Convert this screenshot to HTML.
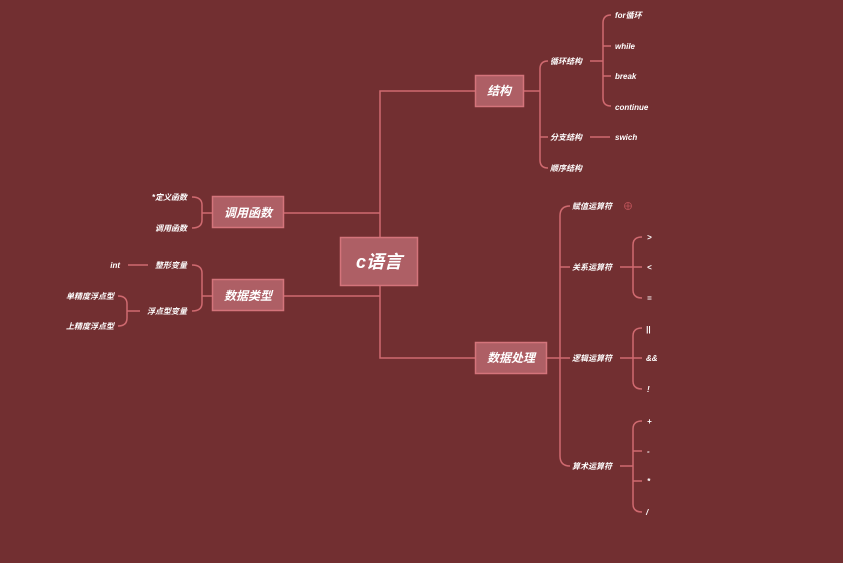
<!DOCTYPE html>
<html><head><meta charset="utf-8"><style>
html,body{margin:0;padding:0;background:#722f31;}
svg{display:block}
text{font-family:"Liberation Sans","Noto Sans CJK SC",sans-serif;font-style:italic;font-weight:bold;fill:#fff;}
.s{font-size:8px}
.m{font-size:12px}
</style></head><body>
<svg width="843" height="563" viewBox="0 0 843 563" xmlns="http://www.w3.org/2000/svg">
<rect width="843" height="563" fill="#722f31"/>
<g fill="none" stroke="#d06a70" stroke-width="1.5">
<!-- main trunk -->
<path d="M475,91 H380 V358 H475"/>
<path d="M283,213 H380 M284,296 H380"/>
<!-- 结构 bracket -->
<path d="M524,91 H540"/>
<path d="M548,61 Q540,61 540,69 V160 Q540,168 548,168 M540,137 Q540,137 548,137"/>
<!-- 循环结构 bracket -->
<path d="M590,61 H603"/>
<path d="M611,15 Q603,15 603,23 V98 Q603,106 611,106 M603,46 H611 M603,76 H611"/>
<path d="M590,137 H610"/>
<!-- 数据处理 bracket -->
<path d="M547,358 H560"/>
<path d="M570,206 Q560,206 560,216 V456 Q560,466 570,466 M560,267 H570 M560,358 H570"/>
<!-- 关系 -->
<path d="M620,267 H633"/>
<path d="M642,237 Q633,237 633,245 V290 Q633,298 642,298 M633,267 H642"/>
<!-- 逻辑 -->
<path d="M620,358 H633"/>
<path d="M642,328 Q633,328 633,336 V381 Q633,389 642,389 M633,358 H642"/>
<!-- 算术 -->
<path d="M620,466 H633"/>
<path d="M642,421 Q633,421 633,429 V504 Q633,512 642,512 M633,451 H642 M633,481 H642"/>
<!-- 调用函数 -->
<path d="M212,213 H202"/>
<path d="M192,197 Q202,197 202,205 V220 Q202,228 192,228"/>
<!-- 数据类型 -->
<path d="M212,296 H202"/>
<path d="M192,265 Q202,265 202,273 V303 Q202,311 192,311"/>
<path d="M128,265 H148"/>
<!-- 浮点型变量 -->
<path d="M140,311 H127"/>
<path d="M118,296 Q127,296 127,304 V318 Q127,326 118,326"/>
</g>
<g fill="#ae5f65" stroke="#d4747b" stroke-width="1.5">
<rect x="340.5" y="237.5" width="77" height="48"/>
<rect x="475.5" y="75.5" width="48" height="31"/>
<rect x="475.5" y="342.5" width="71" height="31"/>
<rect x="212.5" y="196.5" width="71" height="31"/>
<rect x="212.5" y="279.5" width="71" height="31"/>
</g>
<text x="379" y="268" font-size="18" text-anchor="middle">c语言</text>
<text x="499" y="95" class="m" text-anchor="middle">结构</text>
<text x="511" y="362" class="m" text-anchor="middle">数据处理</text>
<text x="248" y="217" class="m" text-anchor="middle">调用函数</text>
<text x="248" y="300" class="m" text-anchor="middle">数据类型</text>
<g class="s">
<text x="550" y="64" class="s">循环结构</text>
<text x="550" y="140" class="s">分支结构</text>
<text x="550" y="171" class="s">顺序结构</text>
<text x="615" y="18" class="s">for循环</text>
<text x="615" y="49" class="s">while</text>
<text x="615" y="79" class="s">break</text>
<text x="615" y="110" class="s">continue</text>
<text x="615" y="140" class="s">swich</text>
<text x="572" y="209" class="s">赋值运算符</text>
<text x="572" y="270" class="s">关系运算符</text>
<text x="572" y="361" class="s">逻辑运算符</text>
<text x="572" y="469" class="s">算术运算符</text>
<text x="647" y="240" class="s">&gt;</text>
<text x="647" y="270" class="s">&lt;</text>
<text x="647" y="301" class="s">=</text>
<text x="646" y="332" class="s">||</text>
<text x="646" y="361" class="s">&amp;&amp;</text>
<text x="647" y="392" class="s">!</text>
<text x="647" y="424" class="s">+</text>
<text x="647" y="454" class="s">-</text>
<text x="647" y="484" class="s">*</text>
<text x="646" y="515" class="s">/</text>
<text x="187" y="200" class="s" text-anchor="end">*定义函数</text>
<text x="187" y="231" class="s" text-anchor="end">调用函数</text>
<text x="187" y="268" class="s" text-anchor="end">整形变量</text>
<text x="187" y="314" class="s" text-anchor="end">浮点型变量</text>
<text x="120" y="268" class="s" text-anchor="end">int</text>
<text x="114" y="299" class="s" text-anchor="end">单精度浮点型</text>
<text x="114" y="329" class="s" text-anchor="end">上精度浮点型</text>
</g>
<circle cx="628" cy="206" r="3.5" fill="none" stroke="#c0545a" stroke-width="0.8"/>
<path d="M624.5,206 H631.5 M628,202.5 V209.5" stroke="#c0545a" stroke-width="0.8"/>
</svg>
</body></html>
